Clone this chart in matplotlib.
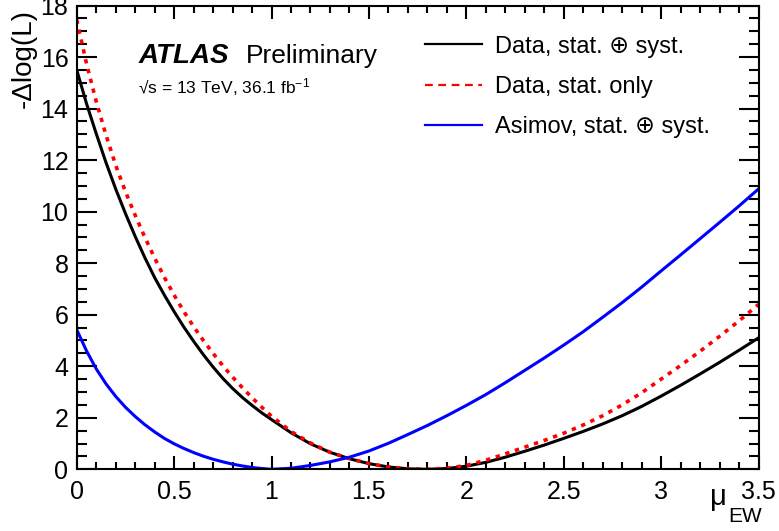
import matplotlib
matplotlib.use('Agg')
import matplotlib.pyplot as plt
from matplotlib.lines import Line2D
from matplotlib.ticker import MultipleLocator

plt.rcParams['font.family'] = ['Liberation Sans', 'DejaVu Sans']
plt.rcParams['mathtext.fontset'] = 'custom'
plt.rcParams['mathtext.rm'] = 'Liberation Sans'
plt.rcParams['mathtext.it'] = 'Liberation Sans'

# values
mu_data = [0.0, 0.05, 0.1, 0.15, 0.2, 0.25, 0.3, 0.35, 0.4, 0.45, 0.5, 0.55, 0.6, 0.65,
           0.7, 0.75, 0.8, 0.85, 0.9, 0.95, 1.0, 1.1, 1.2, 1.3, 1.4, 1.5, 1.6, 1.7, 1.8,
           1.9, 2.0, 2.1, 2.2, 2.3, 2.4, 2.5, 2.6, 2.7, 2.8, 2.9, 3.0, 3.1, 3.2, 3.3,
           3.4, 3.5]
nll_syst = [15.5, 14.2, 13.03, 11.91, 10.88, 9.93, 9.04, 8.21, 7.44, 6.76, 6.12, 5.52,
            4.97, 4.45, 3.97, 3.53, 3.14, 2.79, 2.48, 2.19, 1.93, 1.42, 0.99, 0.66,
            0.41, 0.22, 0.09, 0.02, 0.0, 0.03, 0.12, 0.27, 0.47, 0.7, 0.94, 1.2, 1.47,
            1.76, 2.08, 2.44, 2.84, 3.26, 3.7, 4.15, 4.62, 5.1]
nll_stat = [17.45, 15.75, 14.28, 12.98, 11.8, 10.78, 9.86, 9.0, 8.2, 7.45, 6.76, 6.12,
            5.54, 5.0, 4.5, 4.02, 3.58, 3.17, 2.78, 2.41, 2.06, 1.47, 1.02, 0.66, 0.42,
            0.22, 0.09, 0.02, 0.0, 0.04, 0.15, 0.35, 0.6, 0.86, 1.12, 1.4, 1.72, 2.08,
            2.5, 2.97, 3.5, 4.03, 4.58, 5.16, 5.76, 6.4]
nll_asimov = [5.42, 4.6, 3.9, 3.32, 2.83, 2.41, 2.05, 1.73, 1.45, 1.2, 0.99, 0.81, 0.65,
              0.51, 0.39, 0.29, 0.2, 0.13, 0.07, 0.03, 0.0, 0.04, 0.15, 0.29, 0.47, 0.71,
              1.01, 1.35, 1.7, 2.08, 2.48, 2.9, 3.36, 3.84, 4.32, 4.82, 5.34, 5.9, 6.47,
              7.07, 7.7, 8.32, 8.95, 9.58, 10.22, 10.88]

labels = ['Data, stat. \u2295 syst.', 'Data, stat. only', 'Asimov, stat. \u2295 syst.']

fig = plt.figure(figsize=(7.79, 5.31), dpi=100)
ax = fig.add_axes([0.0985, 0.1162, 0.8752, 0.8734])

ax.plot(mu_data, nll_syst, color='black', lw=2.2)
ax.plot(mu_data, nll_stat, color='red', lw=2.6, dashes=(1.2, 1.6))
ax.plot(mu_data, nll_asimov, color='blue', lw=2.2)

ax.set_xlim(0, 3.5)
ax.set_ylim(0, 18)
ax.xaxis.set_major_locator(MultipleLocator(0.5))
ax.xaxis.set_minor_locator(MultipleLocator(0.1))
ax.yaxis.set_major_locator(MultipleLocator(2))
ax.yaxis.set_minor_locator(MultipleLocator(0.5))
ax.xaxis.set_major_formatter(lambda v, p: f'{v:g}')

ax.tick_params(axis='both', which='both', direction='in', top=True, right=True,
               width=1.5, labelsize=18)
ax.tick_params(axis='x', which='major', length=9.5, pad=8)
ax.tick_params(axis='x', which='minor', length=4.7)
ax.tick_params(axis='y', which='major', length=14.5, pad=6)
ax.tick_params(axis='y', which='minor', length=7.3)
for s in ax.spines.values():
    s.set_linewidth(1.5)

ax.set_ylabel('-\u0394log(L)', fontsize=20, loc='top')
ax.yaxis.set_label_coords(-0.058, 0.993)

# x title: mu with a low subscript, as in the ROOT original
ax.text(0.929, -0.077, '\u03bc', transform=ax.transAxes, fontsize=21, va='baseline')
ax.text(0.955, -0.1136, 'EW', transform=ax.transAxes, fontsize=15, va='baseline')

ax.text(0.09, 0.876, 'ATLAS', transform=ax.transAxes, fontsize=20,
        fontweight='bold', fontstyle='italic', va='baseline')
ax.text(0.248, 0.876, 'Preliminary', transform=ax.transAxes, fontsize=19, va='baseline')
ax.text(0.09, 0.811, '\u221as = 13 TeV, 36.1 fb$^{-1}$',
        transform=ax.transAxes, fontsize=12.5, va='baseline')

handles = [Line2D([], [], color='black', lw=1.6),
           Line2D([], [], color='red', lw=1.6, dashes=(3.5, 2.5)),
           Line2D([], [], color='blue', lw=1.6)]
ax.legend(handles, labels, loc='upper left', bbox_to_anchor=(0.511, 0.935),
          frameon=False, fontsize=17, handlelength=2.4, handletextpad=0.55,
          labelspacing=0.77, borderpad=0, borderaxespad=0)

fig.savefig('out.png', dpi=100)
